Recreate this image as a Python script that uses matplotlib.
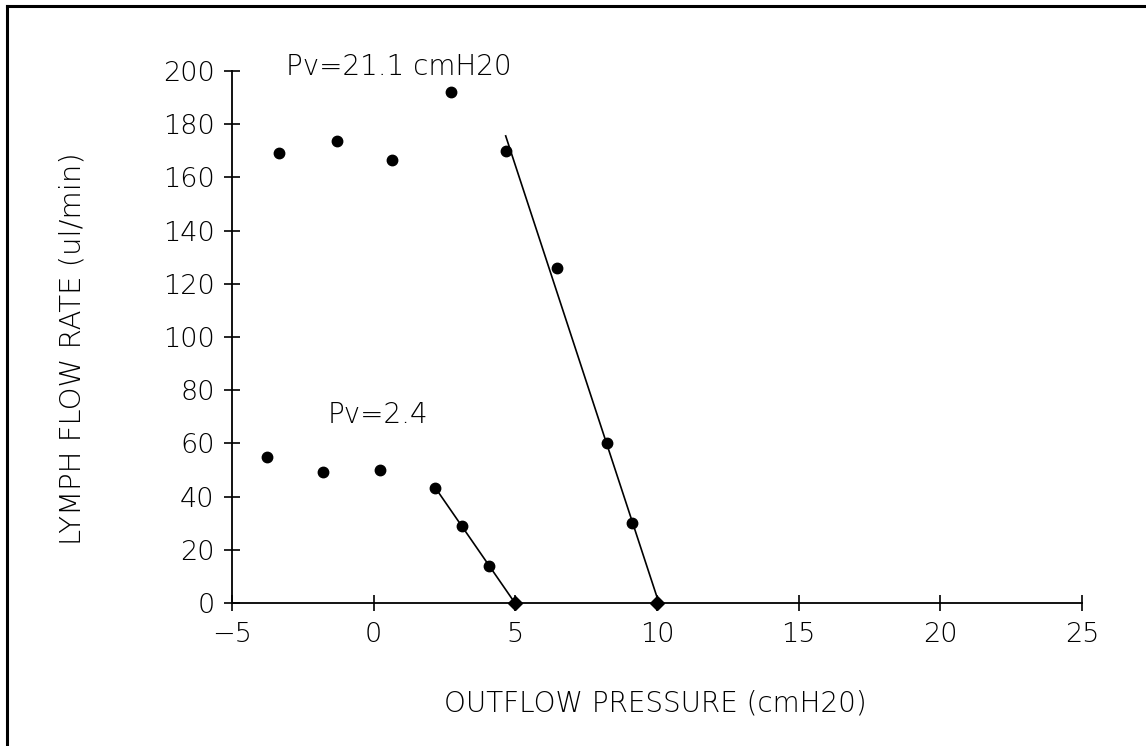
import numpy as np
import matplotlib.pyplot as plt
from matplotlib.lines import Line2D

plt.rcParams['font.family'] = ['DejaVu Sans']
plt.rcParams['font.weight'] = 200

# Pv = 21.1 cmH2O
x_hi = [-3.33, -1.31, 0.66, 2.73, 4.66, 6.46, 8.22, 9.11]
y_hi = [169.3, 173.8, 166.4, 192.2, 169.9, 125.9, 60.3, 30.0]
x_hi_zero = 10.0

# Pv = 2.4
x_lo = [-3.78, -1.79, 0.21, 2.18, 3.12, 4.06]
y_lo = [54.9, 49.2, 50.0, 43.2, 29.1, 13.8]
x_lo_zero = 5.0

# points used for the regression lines
fit_hi = slice(4, None)
fit_lo = slice(3, None)

x_ticks = [-5, 0, 5, 10, 15, 20, 25]
y_ticks = list(range(0, 201, 20))

fig = plt.figure(figsize=(11.46, 7.46), dpi=100)
ax = fig.add_axes([0.2024, 0.1917, 0.7418, 0.7131])

def fit_line(xs, ys, x0):
    xs = np.append(xs, x0)
    ys = np.append(ys, 0.0)
    k, b = np.polyfit(xs, ys, 1)
    xx = np.array([xs.min(), -b / k])
    return xx, k * xx + b

for xs, ys, x0, sl in [(x_hi, y_hi, x_hi_zero, fit_hi), (x_lo, y_lo, x_lo_zero, fit_lo)]:
    xs = np.array(xs); ys = np.array(ys)
    ax.plot(xs, ys, 'o', color='black', markersize=7.5, clip_on=False)
    ax.plot([x0], [0], 'D', color='black', markersize=7, clip_on=False, zorder=5)
    lx, ly = fit_line(xs[sl], ys[sl], x0)
    ax.plot(lx, ly, color='black', lw=1.2, clip_on=False)

ax.set_xlim(-5, 25)
ax.set_ylim(0, 200)
ax.set_xticks(x_ticks)
ax.set_yticks(y_ticks)
ax.set_xticklabels([str(t).replace('-', '\u2212') for t in x_ticks])
for s in ['top', 'right']:
    ax.spines[s].set_visible(False)
for s in ['left', 'bottom']:
    ax.spines[s].set_linewidth(1.3)
ax.tick_params(direction='inout', length=11, width=1.2, labelsize=19.5, pad=7)
ax.tick_params(axis='x', pad=8)

ax.text(-3.1, 201.5, 'Pv=21.1 cmH20', fontsize=20, va='center', ha='left')
ax.text(-1.62, 70.7, 'Pv=2.4', fontsize=20, va='center', ha='left')

fig.text(0.572, 0.0576, 'OUTFLOW PRESSURE (cmH20)', fontsize=20, ha='center', va='center')
fig.text(0.063, 0.533, 'LYMPH FLOW RATE (ul/min)', fontsize=21, ha='center', va='center',
         rotation=90)

# frame lines on the left and top edges
fig.add_artist(Line2D([0.0065, 0.0065], [0, 0.992], transform=fig.transFigure,
                      color='black', lw=2.2))
fig.add_artist(Line2D([0.0065, 1.0], [0.992, 0.992], transform=fig.transFigure,
                      color='black', lw=2.2))

fig.savefig('out.png', dpi=100)
